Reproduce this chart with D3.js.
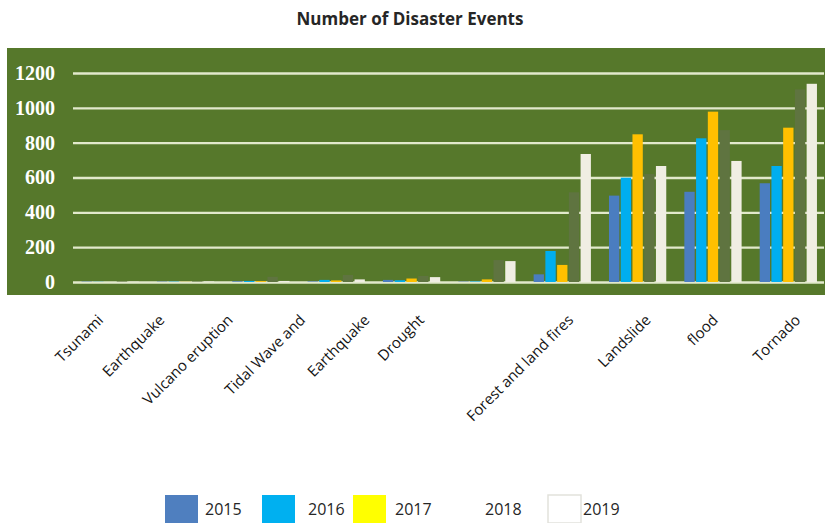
<!DOCTYPE html>
<html>
<head>
<meta charset="utf-8">
<script src="https://cdnjs.cloudflare.com/ajax/libs/d3/7.8.5/d3.min.js"></script>
<style>
  body { margin: 0; background: #fff; }
  svg { display: block; }
</style>
</head>
<body>
<div id="chart"></div>
<script>
// categories and yearly counts
var categories = ["Tsunami", "Earthquake", "Vulcano eruption", "Tidal Wave and", "Earthquake ",
    "Drought", "Forest and land fires", "Landslide", "flood", "Tornado"];
var years = ["2015", "2016", "2017", "2018", "2019"];
var values2015 = [2, 2, 4, 3, 12, 2, 44, 496, 518, 567];
var values2016 = [1, 2, 6, 12, 10, 3, 178, 599, 825, 666];
var values2017 = [0, 1, 5, 9, 20, 15, 98, 848, 978, 886];
var values2018 = [3, 3, 30, 40, 35, 126, 515, 620, 872, 1106];
var values2019 = [2, 3, 6, 15, 28, 120, 735, 666, 695, 1138];
var yTicks = [0, 200, 400, 600, 800, 1000, 1200];

var series = [values2015, values2016, values2017, values2018, values2019];

// bar colours and the (mismatched) legend colours of the original
var barColors = ["#4a7dc0", "#00aeef", "#ffc000", "#5f7440", "#f0eee3"];
var legendColors = ["#4f7fbf", "#00b0f0", "#ffff00", "#ffffff", "#ffffff"];

var svgWidth = 833;
var svgHeight = 523;

var svg = d3.select("#chart")
    .append("svg")
    .attr("width", svgWidth)
    .attr("height", svgHeight);

// green plot panel
svg.append("rect")
    .attr("x", 7)
    .attr("y", 48)
    .attr("width", 818)
    .attr("height", 247)
    .attr("fill", "#56782b");

// title
svg.append("text")
    .attr("x", 410)
    .attr("y", 25)
    .attr("text-anchor", "middle")
    .style("font-family", "'Open Sans', sans-serif")
    .style("font-weight", "bold")
    .style("font-size", "17px")
    .attr("fill", "#262626")
    .text("Number of Disaster Events");

// scales
var x0 = d3.scaleBand()
    .domain(categories)
    .range([72.5, 826])
    .paddingInner(0.24)
    .paddingOuter(0.12);

var x1 = d3.scaleBand()
    .domain(years)
    .range([0, x0.bandwidth()])
    .paddingInner(0.12);

var y = d3.scaleLinear()
    .domain([0, 1200])
    .range([282, 73]);

// gridlines
var yAxis = d3.axisLeft(y)
    .tickValues(yTicks)
    .tickSize(-(824 - 73))
    .tickPadding(18)
    .tickFormat(d3.format("d"));

var yAxisG = svg.append("g")
    .attr("transform", "translate(73,0)")
    .call(yAxis);

yAxisG.select(".domain").remove();
yAxisG.selectAll(".tick line")
    .attr("stroke", "#e2e9cc")
    .attr("stroke-width", 2.4);
yAxisG.selectAll(".tick text")
    .attr("fill", "#ffffff")
    .style("font-family", "'Liberation Serif', serif")
    .style("font-weight", "bold")
    .style("font-size", "20px");

// bars
var groups = svg.append("g")
    .selectAll("g")
    .data(categories)
    .enter()
    .append("g")
    .attr("transform", d => `translate(${x0(d)},0)`);

groups.selectAll("rect")
    .data((d, i) => years.map((yr, k) => ({ year: yr, k: k, value: series[k][i] })))
    .enter()
    .append("rect")
    .attr("x", d => x1(d.year))
    .attr("width", x1.bandwidth())
    .attr("y", d => y(d.value))
    .attr("height", d => y(0) - y(d.value))
    .attr("fill", d => barColors[d.k]);

// category labels (the original ones drift off their groups on the left)
var labelNudge = [-6, -20, -27, -30, -41, -62, 12, 14, 6, 13];

svg.append("g")
    .selectAll("text")
    .data(categories)
    .enter()
    .append("text")
    .attr("transform", (d, i) => `translate(${x0(d) + x0.bandwidth() / 2 + labelNudge[i]},321) rotate(-45)`)
    .attr("text-anchor", "end")
    .style("font-family", "'Open Sans', sans-serif")
    .style("font-size", "15px")
    .attr("fill", "#141414")
    .text(d => d);

// legend
var legendLayout = [[165, 205], [262, 308], [353, 395], [445, 485], [548, 583]];

var legend = svg.append("g")
    .selectAll("g")
    .data(years)
    .enter()
    .append("g");

legend.append("rect")
    .attr("x", (d, i) => legendLayout[i][0])
    .attr("y", 495)
    .attr("width", 33)
    .attr("height", 28)
    .attr("fill", (d, i) => legendColors[i])
    .attr("stroke", (d, i) => i === 4 ? "#e2e2dc" : "none")
    .attr("stroke-width", 1.5);

legend.append("text")
    .attr("x", (d, i) => legendLayout[i][1])
    .attr("y", 515)
    .style("font-family", "'Open Sans', sans-serif")
    .style("font-size", "16px")
    .attr("fill", "#262626")
    .text(d => d);
</script>
</body>
</html>
